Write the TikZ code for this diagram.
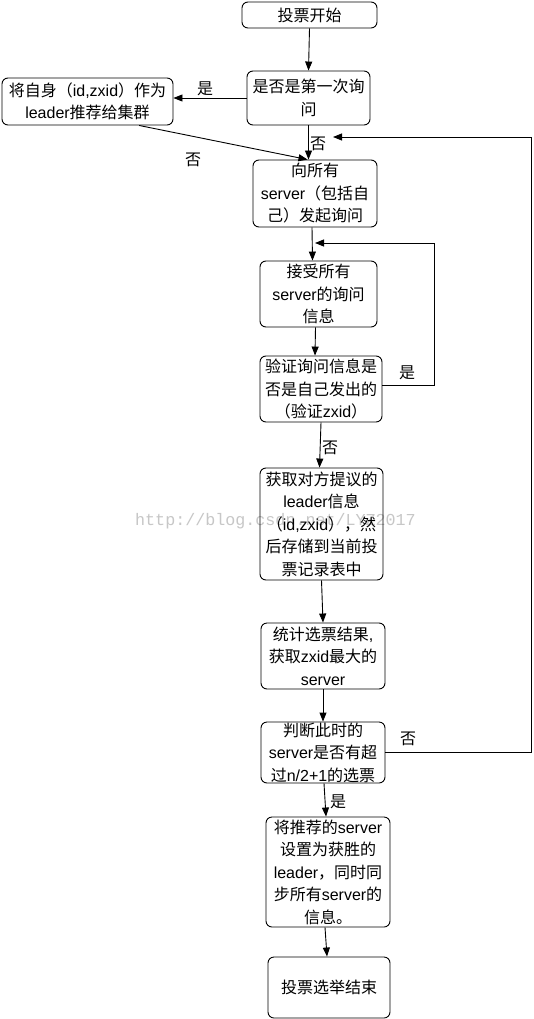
\documentclass[tikz,border=0pt]{standalone}
\usepackage{fontspec}
\setmainfont{Liberation Sans}
\newfontfamily\latinf{Liberation Sans}
\newfontfamily\cjkf{Noto Sans CJK SC}
\newfontfamily\wmfont{Liberation Mono}
\XeTeXinterchartokenstate=1
\newXeTeXintercharclass\CJKcls
\newcount\cjkcnt
\def\setcjkrange#1#2{\cjkcnt=#1 \loop\XeTeXcharclass\cjkcnt=\CJKcls\relax\ifnum\cjkcnt<#2 \advance\cjkcnt by 1 \repeat}
\setcjkrange{"3000}{"303F}
\setcjkrange{"4E00}{"9FFF}
\setcjkrange{"FF00}{"FFEF}
\XeTeXinterchartoks 0 \CJKcls = {\cjkf}
\XeTeXinterchartoks 4095 \CJKcls = {\cjkf}
\XeTeXinterchartoks \CJKcls 0 = {\latinf}
\usetikzlibrary{arrows.meta,calc}
\tikzset{
  box/.style={draw, rounded corners=6pt, line width=0.9pt, align=center, inner sep=0pt,
    font=\fontsize{16}{22.5}\selectfont},
  arr/.style={-{Triangle[length=9pt,width=7pt]}, line width=0.9pt},
  lbl/.style={font=\fontsize{16}{20}\selectfont, inner sep=0pt},
  wm/.style={text=black!22, inner sep=0pt, font=\wmfont\fontsize{16.7}{20}\selectfont}
}
\begin{document}
\begin{tikzpicture}[x=1pt,y=-1pt]
\fill[white] (0,0) rectangle (534,1019);
\useasboundingbox (0,0) rectangle (534,1019);

\node[wm, anchor=base west] (wmk) at (135,525) {http://blog.csdn.net/LYZ2017};

\node[box, minimum width=135pt, minimum height=26pt] (b1) at (309.5,15) {投票开始};
\node[box, minimum width=123pt, minimum height=54pt] (b2) at (308.5,98) {是否是第一次询\\问};
\node[box, minimum width=171pt, minimum height=47pt] (bL) at (87.5,101.5) {将自身（id,zxid）作为\\leader推荐给集群};
\node[box, minimum width=124pt, minimum height=67pt] (b3) at (315,193.5) {向所有\\server（包括自\\己）发起询问};
\node[box, minimum width=117pt, minimum height=66pt] (b4) at (318.5,294) {接受所有\\server的询问\\信息};
\node[box, minimum width=122pt, minimum height=66pt] (b5) at (321,389) {验证询问信息是\\否是自己发出的\\（验证zxid）};
\node[box, minimum width=123pt, minimum height=112pt] (b6) at (321.5,524) {获取对方提议的\\leader信息\\（id,zxid），然\\后存储到当前投\\票记录表中};
\node[box, minimum width=124pt, minimum height=66pt] (b7) at (323,656) {统计选票结果,\\获取zxid最大的\\server};
\node[box, minimum width=124pt, minimum height=61pt] (b8) at (323,752.5) {判断此时的\\server是否有超\\过n/2+1的选票};
\node[box, minimum width=124pt, minimum height=110pt] (b9) at (328,872) {将推荐的server\\设置为获胜的\\leader，同时同\\步所有server的\\信息。};
\node[box, minimum width=122pt, minimum height=61pt] (b10) at (329,987.5) {投票选举结束};

\coordinate (l1) at (434,243);
\coordinate (l2) at (531,137);

\draw[arr] (b1.south) -- (b2.north);
\draw[arr] (b2.west) -- (b2.west -| bL.east);
\draw[arr] (b2.south) -- (b2.south |- b3.north);
\draw[arr] ($(bL.south west)!0.8!(bL.south east)$) -- ([xshift=-1pt]b2.south |- b3.north);
\draw[arr] ([xshift=-3pt]b3.south) -- ([xshift=-6pt]b4.north);
\draw[arr] ([xshift=-3pt]b4.south) -- ([xshift=-6pt]b5.north);
\draw[arr] (b5.south) -- ([xshift=-2pt]b6.north);
\draw[arr] (b6.south) -- (b7.north);
\draw[arr] (b7.south) -- (b8.north);
\draw[arr] ([xshift=1pt]b8.south) -- ([xshift=-2pt]b9.north);
\draw[arr] ([xshift=-3pt]b9.south) -- ([xshift=-2pt]b10.north);
\draw[arr] ([yshift=4pt]b5.east) -| (l1) -- ([xshift=-3.5pt]b4.north |- l1);
\draw[arr] (b8.east) -| (l2) -- ([xshift=18pt]b3.north |- l2);

\node[lbl] (t1) at (205,89) {是};
\node[lbl] (t2) at (318,144) {否};
\node[lbl] (t3) at (193,160) {否};
\node[lbl] (t4) at (407,373) {是};
\node[lbl] (t5) at (330,448) {否};
\node[lbl] (t6) at (408,739) {否};
\node[lbl] (t7) at (338,802) {是};
\end{tikzpicture}
\end{document}
